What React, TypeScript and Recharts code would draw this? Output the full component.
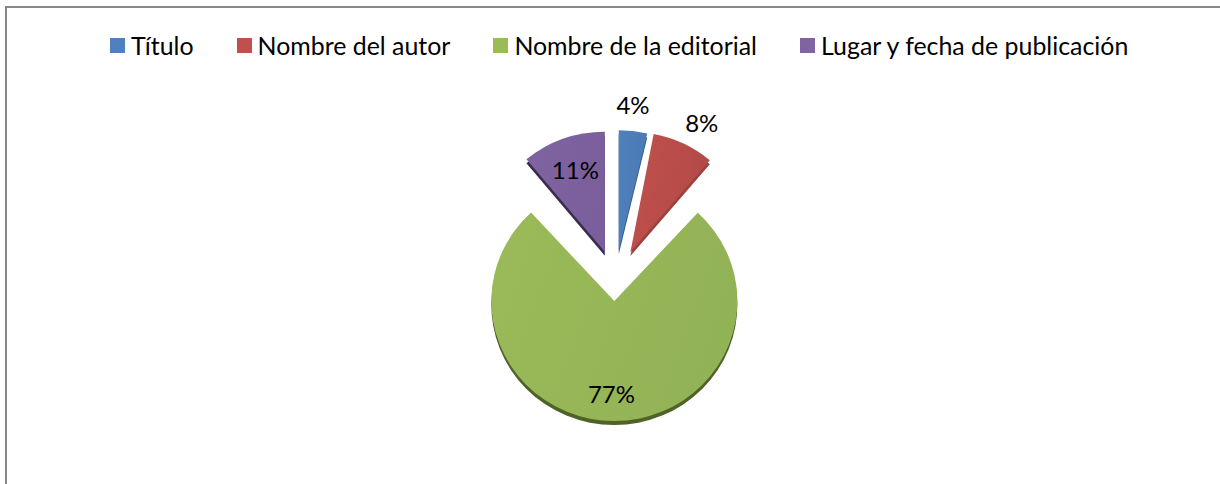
import React from "react";
import { PieChart, Pie, Cell, Legend, Sector } from "recharts";

const categories = ["Título", "Nombre del autor", "Nombre de la editorial", "Lugar y fecha de publicación"];
const shares = [4, 8, 77, 11];
const topColors = ["#4f81bd", "#c0504d", "#9bbb59", "#8064a2"];
const endColors = ["#4a7ab5", "#b34a47", "#92b256", "#7a5f9c"];
const sideColors = ["#385d8a", "#9c403e", "#4f6228", "#3a2c50"];
const explosion = [30, 32, 21, 30];
const labelRadius = [146, 148, 93, 87];
const labelTilt = [1.6, 0, 0, 0];
// the reference's 3D tilt bends slice edges by a few degrees
const startTilt = [0, 3.5, 0.5, 0];
const endTilt = [1, 3, 3, 0];

const data = categories.map((name, i) => ({ name, value: shares[i], idx: i }));
const FONT = "Lato, Carlito, Calibri, sans-serif";
const SQUASH = 0.976;
const RAD = Math.PI / 180;

function offset(i: number, mid: number) {
  return { dx: explosion[i] * Math.cos(mid * RAD), dy: -explosion[i] * Math.sin(mid * RAD) };
}

function sliceShape(props: any) {
  const { cx, cy, innerRadius, outerRadius, startAngle, endAngle, midAngle, payload } = props;
  const i = payload.idx;
  const mid = midAngle ?? (startAngle + endAngle) / 2;
  const { dx, dy } = offset(i, mid);
  const ax = cx + dx;
  const ay = cy + dy;
  const a0 = startAngle + startTilt[i];
  const a1 = endAngle + endTilt[i];
  const squash = `translate(${ax} ${ay}) scale(1 ${SQUASH}) translate(${-ax} ${-ay})`;
  return (
    <g>
      <g transform={`translate(0 4) ${squash}`}>
        <Sector cx={ax} cy={ay} innerRadius={innerRadius} outerRadius={outerRadius}
          startAngle={a0} endAngle={a1} fill={sideColors[i]} stroke="none" />
      </g>
      <g transform={squash}>
        <Sector cx={ax} cy={ay} innerRadius={innerRadius} outerRadius={outerRadius}
          startAngle={a0} endAngle={a1} fill={`url(#slice${i})`} stroke="none" />
      </g>
    </g>
  );
}

function sliceLabel(props: any) {
  const { cx, cy, midAngle, payload } = props;
  const i = payload.idx;
  const { dx, dy } = offset(i, midAngle);
  const a = (midAngle + labelTilt[i]) * RAD;
  const x = cx + dx + labelRadius[i] * Math.cos(a);
  const y = cy + dy - labelRadius[i] * Math.sin(a);
  return (
    <text x={x} y={y} textAnchor="middle" dominantBaseline="central"
      fontFamily={FONT} fontSize={24} fill="#000">
      {`${shares[i]}%`}
    </text>
  );
}

function legendContent() {
  return (
    <div style={{ display: "flex", gap: 43, fontFamily: FONT, fontSize: 24.9, color: "#000", whiteSpace: "nowrap" }}>
      {categories.map((c, i) => (
        <div key={c} style={{ display: "flex", alignItems: "center", gap: 6 }}>
          <span style={{ display: "inline-block", width: 15, height: 15, background: topColors[i] }} />
          <span style={{ lineHeight: "30px" }}>{c}</span>
        </div>
      ))}
    </div>
  );
}

export default function App() {
  return (
    <div style={{ position: "absolute", left: 0, top: 0, width: 1220, height: 484, background: "#fff", overflow: "hidden" }}>
      <div style={{ position: "absolute", left: 5, top: 6, width: 1215, height: 478, borderLeft: "2px solid #868686", borderTop: "2px solid #868686", boxSizing: "border-box" }} />
      <PieChart width={1220} height={484} margin={{ top: 0, right: 0, bottom: 0, left: 0 }} style={{ position: "absolute", left: 0, top: 0 }}>
        <defs>
          {topColors.map((c, i) => (
            <linearGradient key={c} id={`slice${i}`} x1="0" y1="0" x2="1" y2="0.3">
              <stop offset="0%" stopColor={c} />
              <stop offset="100%" stopColor={endColors[i]} />
            </linearGradient>
          ))}
        </defs>
        <Legend content={legendContent} verticalAlign="top" align="left"
          wrapperStyle={{ left: 110, top: 30, width: "auto" }} />
        <Pie data={data} dataKey="value" nameKey="name" cx={615} cy={250}
          innerRadius={0} outerRadius={123} startAngle={90} endAngle={-270}
          isAnimationActive={false} stroke="none" shape={sliceShape}
          label={sliceLabel} labelLine={false}>
          {data.map((d, i) => <Cell key={d.name} fill={topColors[i]} />)}
        </Pie>
      </PieChart>
    </div>
  );
}
